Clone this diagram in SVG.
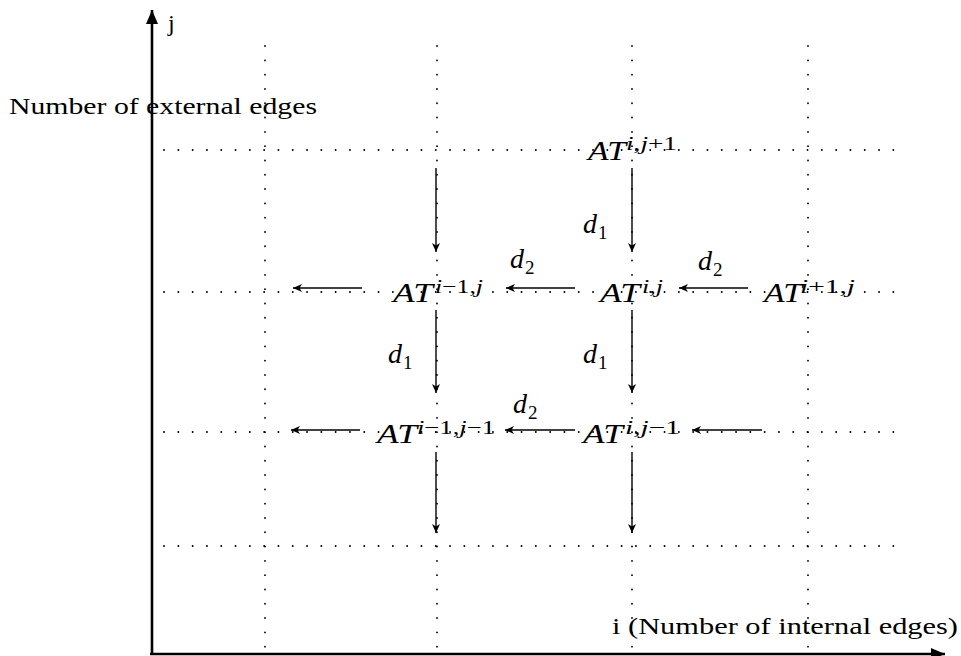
<svg xmlns="http://www.w3.org/2000/svg" width="961" height="656" viewBox="0 0 961 656">
<style>
.grid{stroke:#000;stroke-width:1.8;stroke-linecap:round;stroke-dasharray:0.1 14.2;fill:none}
.arr{stroke:#000;stroke-width:1.4;fill:none;marker-end:url(#ah)}
.axis{stroke:#000;stroke-width:2.6;fill:none}
.rm{font-family:"Liberation Serif",serif;fill:#000}
.mi{font-family:"Liberation Serif",serif;font-style:italic;font-size:28px;fill:#000}
.sup{font-family:"Liberation Serif",serif;font-size:19px;fill:#000}
.sub{font-family:"Liberation Serif",serif;font-size:19px;fill:#000}
.it{font-style:italic}
</style>
<defs>
<marker id="ah" markerUnits="userSpaceOnUse" markerWidth="12" markerHeight="10" refX="9" refY="4" orient="auto">
<path d="M0,0 L9,4 L0,8 L2.5,4 z" fill="#000"/>
</marker>
<marker id="axh" markerUnits="userSpaceOnUse" markerWidth="16" markerHeight="14" refX="14" refY="6" orient="auto">
<path d="M0,0 L14,6 L0,12 z" fill="#000"/>
</marker>
</defs>
<rect width="961" height="656" fill="#fff"/>
<g id="grid">
<line class="grid" x1="164" y1="150" x2="905" y2="150"/>
<line class="grid" x1="164" y1="292" x2="905" y2="292"/>
<line class="grid" x1="164" y1="432" x2="905" y2="432"/>
<line class="grid" x1="164" y1="546" x2="905" y2="546"/>
<line class="grid" x1="265" y1="46" x2="265" y2="650"/>
<line class="grid" x1="437" y1="46" x2="437" y2="650"/>
<line class="grid" x1="632" y1="46" x2="632" y2="650"/>
<line class="grid" x1="808" y1="46" x2="808" y2="650"/>
</g>
<g id="axes">
<line class="axis" x1="152" y1="655" x2="152" y2="10" marker-end="url(#axh)"/>
<line class="axis" x1="150" y1="654" x2="945" y2="654" marker-end="url(#axh)"/>
<text class="rm" x="168" y="31" font-size="24">j</text>
<text class="rm" x="9" y="114" font-size="23" textLength="308" lengthAdjust="spacingAndGlyphs">Number of external edges</text>
<text class="rm" x="612" y="634" font-size="23" textLength="346" lengthAdjust="spacingAndGlyphs">i (Number of internal edges)</text>
</g>
<g id="connectors">
<line class="arr" x1="436" y1="168" x2="436" y2="252"/>
<line class="arr" x1="632" y1="168" x2="632" y2="252"/>
<line class="arr" x1="436" y1="310" x2="436" y2="393"/>
<line class="arr" x1="632" y1="310" x2="632" y2="393"/>
<line class="arr" x1="436" y1="452" x2="436" y2="533"/>
<line class="arr" x1="632" y1="452" x2="632" y2="533"/>
<line class="arr" x1="362" y1="288" x2="293" y2="288"/>
<line class="arr" x1="575" y1="288" x2="506" y2="288"/>
<line class="arr" x1="748" y1="288" x2="679" y2="288"/>
<line class="arr" x1="360" y1="430" x2="291" y2="430"/>
<line class="arr" x1="575" y1="430" x2="505" y2="430"/>
<line class="arr" x1="762" y1="430" x2="692" y2="430"/>
<text class="mi" x="583" y="233">d</text><text class="sub" x="598" y="239">1</text>
<text class="mi" x="510" y="268">d</text><text class="sub" x="525" y="274">2</text>
<text class="mi" x="698" y="270">d</text><text class="sub" x="713" y="276">2</text>
<text class="mi" x="388" y="363">d</text><text class="sub" x="403" y="369">1</text>
<text class="mi" x="583" y="363">d</text><text class="sub" x="598" y="369">1</text>
<text class="mi" x="513" y="413">d</text><text class="sub" x="528" y="419">2</text>
</g>
<g id="node-AT-i-jp1">
<text class="mi" x="588" y="160" textLength="38" lengthAdjust="spacingAndGlyphs">AT</text>
<text class="sup" x="626" y="150" textLength="51" lengthAdjust="spacingAndGlyphs"><tspan class="it">i</tspan>,<tspan class="it">j</tspan>+1</text>
</g>
<g id="node-AT-im1-j">
<text class="mi" x="393" y="302" textLength="40" lengthAdjust="spacingAndGlyphs">AT</text>
<text class="sup" x="435" y="293" textLength="48" lengthAdjust="spacingAndGlyphs"><tspan class="it">i</tspan>−1,<tspan class="it">j</tspan></text>
</g>
<g id="node-AT-i-j">
<text class="mi" x="600" y="302" textLength="40" lengthAdjust="spacingAndGlyphs">AT</text>
<text class="sup" x="642" y="293" textLength="21" lengthAdjust="spacingAndGlyphs"><tspan class="it">i</tspan>,<tspan class="it">j</tspan></text>
</g>
<g id="node-AT-ip1-j">
<text class="mi" x="764" y="302" textLength="38" lengthAdjust="spacingAndGlyphs">AT</text>
<text class="sup" x="800" y="293" textLength="55" lengthAdjust="spacingAndGlyphs"><tspan class="it">i</tspan>+1,<tspan class="it">j</tspan></text>
</g>
<g id="node-AT-im1-jm1">
<text class="mi" x="377" y="443" textLength="40" lengthAdjust="spacingAndGlyphs">AT</text>
<text class="sup" x="417" y="434" textLength="78" lengthAdjust="spacingAndGlyphs"><tspan class="it">i</tspan>−1,<tspan class="it">j</tspan>−1</text>
</g>
<g id="node-AT-i-jm1">
<text class="mi" x="583" y="443" textLength="40" lengthAdjust="spacingAndGlyphs">AT</text>
<text class="sup" x="625" y="434" textLength="55" lengthAdjust="spacingAndGlyphs"><tspan class="it">i</tspan>,<tspan class="it">j</tspan>−1</text>
</g>
</svg>
